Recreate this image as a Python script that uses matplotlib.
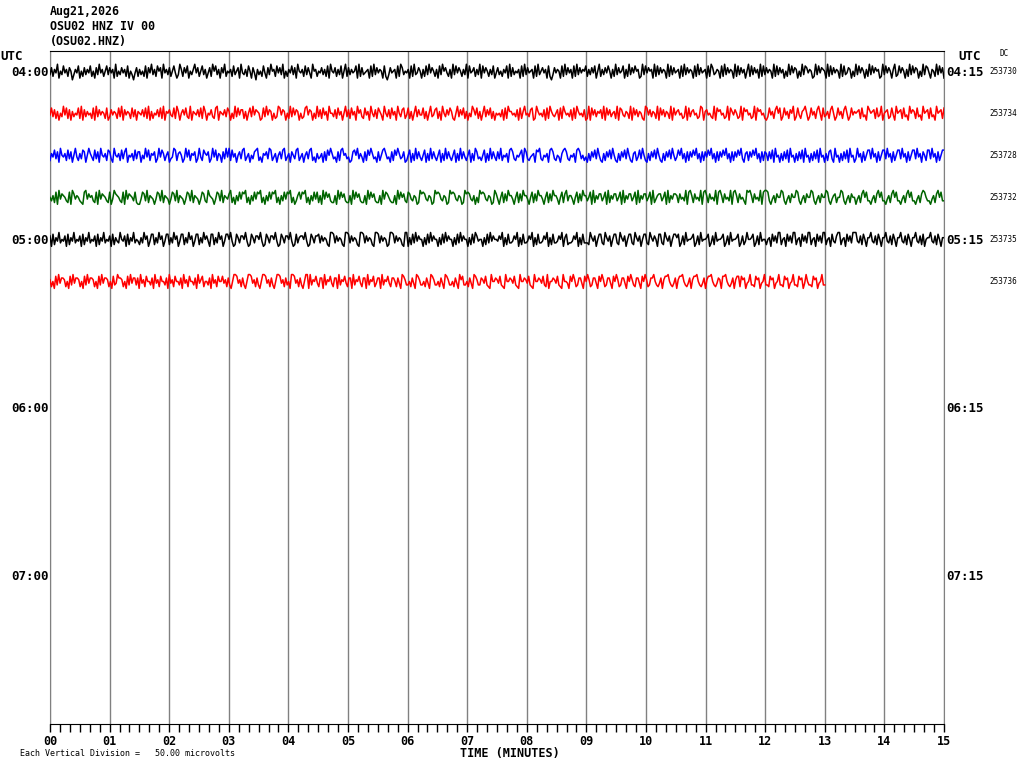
import numpy as np
import matplotlib
matplotlib.use("Agg")
import matplotlib.pyplot as plt

# trace samples, one digit per sample (0..9, 4.5 = DC level), about 1.5 s apart
trace_0400 = ("372649153846275036481527364825173946258374619253746281530472"
              "635281749362857194637258413962748153694725836147295836174925"
              "462835719436285174063528417395628473915264837195462837419562"
              "547362819547263815927364581927345618293746518203745618297354"
              "618293475162839475261839574261938475263918457263918475263814"
              "735264819273546182937456182935746182037465182937461829374658"
              "263748159263748516293745816293748561293847561928374651928374"
              "561829374651829374561829734651829374651928374615928374619283"
              "746519283746152938476152938746512938476519283746519283476152"
              "938475162938475612938475169238475162938476152938741652938471")
trace_0415 = ("483726153948271635482917364528193746528137465283917465283716"
              "547382916254738291657438296157483291654738296154732891654738"
              "615293847726158394765128394761523984761529384761523894761529"
              "372846195537284615937284619573284619537286419537284619537824"
              "826159374482615934782619537486215937482615397482615937482615"
              "453718296645371826945378129645371829643571829645371829645371"
              "291847365729184735629187436529184736521984736529184736529184"
              "674523918367452398167453291867452391864752391867452391867452"
              "138462795813846275913842679513846279518346279513846279513846"
              "567283419756728349156723841956728341957628341956728341956728")
trace_0430 = ("264837195462837159426387159642837195462873195462837915462837"
              "715394826571394862571349826751394826571394286571394826517394"
              "928461573892461537892416573982461573892461753892461573892416"
              "346172859634172895634127859364172859634172589634172859634712"
              "581629374258162937425816293742581629374258162973425816293742"
              "739254618973254681973245618793254618973254168973254618973524"
              "162748395216274839521627483952167248395216274839521627483952"
              "485936172748593617274859361727485936172748593167274859361727"
              "627381945162738194516273819451627381945162783194516273819451"
              "394617258839461725883946172588394617258839461752883946172588")
trace_0445 = ("536281947653281974653218947563281947653281497653281947653821"
              "148739265414873926541487392654148739265414873296541487392654"
              "792516384879251638487925163848792516384879251368487925163848"
              "261948573226194857322619485732261948573226194875322619485732"
              "874365129787436512978743651297874365129787436152978743651297"
              "415827396641582739664158273966415827396641582793664158273966"
              "358192647735819264773581926477358192647735819246773581926477"
              "627453918962745391896274539189627453918962745319896274539189"
              "983146275598314627559831462755983146275598314672559831462755"
              "146279583314627958331462795833146279583314627985331462795833")
trace_0500 = ("718264935471826493547182649354718264935471826439547182649354"
              "263957148826395714882639571488263957148826395741882639571488"
              "594128637759412863775941286377594128637759412836775941286377"
              "837465219983746521998374652199837465219983746512998374652199"
              "162839475516283947551628394755162839475516283974551628394755"
              "475916283347591628334759162833475916283347591682334759162833"
              "329647158832964715883296471588329647158832964751883296471588"
              "681372945568137294556813729455681372945568137249556813729455"
              "256184739925618473992561847399256184739925618437992561847399"
              "943728516694372851669437285166943728516694372815669437285166")
trace_0515 = ("625183947762518394776251839477625183947762518349776251839477"
              "371946285537194628553719462855371946285537194682553719462855"
              "846273159984627315998462731599846273159984627351998462731599"
              "193658427719365842771936584277193658427719365824771936584277"
              "527419863352741986335274198633527419863352741968335274198633"
              "764832195576483219557648321955764832195576483291557648321955"
              "418596237741859623774185962377418596237741859632774185962377"
              "953247168895324716889532471688953247168895324761889532471688"
              "286714593328671459332867145933286714593328671495332867145933")

traces = [trace_0400, trace_0415, trace_0430, trace_0445, trace_0500, trace_0515]
trace_end_min = [15, 15, 15, 15, 15, 13]
trace_colors = ["black", "red", "blue", "#006400", "black", "red"]
dc_values = [253730, 253734, 253728, 253732, 253735, 253736]

left_hours = ["04:00", "05:00", "06:00", "07:00"]
right_hours = ["04:15", "05:15", "06:15", "07:15"]
minute_labels = ["%02d" % m for m in range(16)]

n_rows = 16
uv_per_digit = 1.4   # microvolts per digit step
uv_per_row = 34.0    # display gain: microvolts spanned by one row

W, H = 1024, 768
fig = plt.figure(figsize=(W / 100, H / 100), dpi=100)
fig.patch.set_facecolor("white")

def px(x, y):
    return x / W, 1 - y / H

ax = fig.add_axes([50 / W, 1 - 724 / H, 894 / W, 673 / H])
ax.set_xlim(0, 15)
ax.set_ylim(n_rows, 0)

for m in range(16):
    ax.axvline(m, color="#808080", lw=1.0, zorder=1)

for i, digits in enumerate(traces):
    uv = (np.array([int(c) for c in digits], dtype=float) - 4.5) * uv_per_digit
    t = np.linspace(0, trace_end_min[i], len(uv))
    y = i + 0.5 - uv / uv_per_row
    ax.plot(t, y, color=trace_colors[i], lw=1.1, zorder=3)

for s in ["left", "right"]:
    ax.spines[s].set_color("#808080")
ax.spines["top"].set_color("black")
ax.spines["bottom"].set_color("black")

ax.set_yticks([])
ax.set_xticks(range(16))
ax.set_xticks(np.arange(0, 15.001, 1 / 6), minor=True)
ax.tick_params(axis="x", which="both", direction="out", length=6, width=1,
               color="black", pad=2)
ax.set_xticklabels(minute_labels, fontfamily="DejaVu Sans Mono",
                   fontweight="bold", fontsize=8.5)

mono = "DejaVu Sans Mono"
title_lines = ["Aug21,2026", "OSU02 HNZ IV 00", "(OSU02.HNZ)"]
for k, line in enumerate(title_lines):
    fig.text(*px(50, 12 + 15 * k), line, family=mono, weight="bold",
             fontsize=8.4, va="center", ha="left")

fig.text(*px(0, 57), "UTC", family=mono, weight="bold", fontsize=9,
         va="center", ha="left")
fig.text(*px(958, 57), "UTC", family=mono, weight="bold", fontsize=9,
         va="center", ha="left")
fig.text(*px(1004, 54), "DC", family=mono, fontsize=5.5, va="center",
         ha="center")

for k in range(4):
    row = 4 * k
    ax.text(-0.02, row + 0.5, left_hours[k], family=mono, weight="bold",
            fontsize=9, va="center", ha="right", clip_on=False)
    ax.text(0.03 + 15, row + 0.5, right_hours[k], family=mono,
            weight="bold", fontsize=9, va="center", ha="left",
            clip_on=False)

for i, dc in enumerate(dc_values):
    yy = 72 + 42 * i
    fig.text(*px(989, yy), str(dc), family=mono, fontsize=5.5,
             va="center", ha="left")

fig.text(*px(510, 753), "TIME (MINUTES)", family=mono, weight="bold",
         fontsize=8.5, va="center", ha="center")
fig.text(*px(20, 754), "Each Vertical Division =   50.00 microvolts",
         family=mono, fontsize=6, va="center", ha="left")

fig.savefig("out.png", dpi=100, facecolor="white")
